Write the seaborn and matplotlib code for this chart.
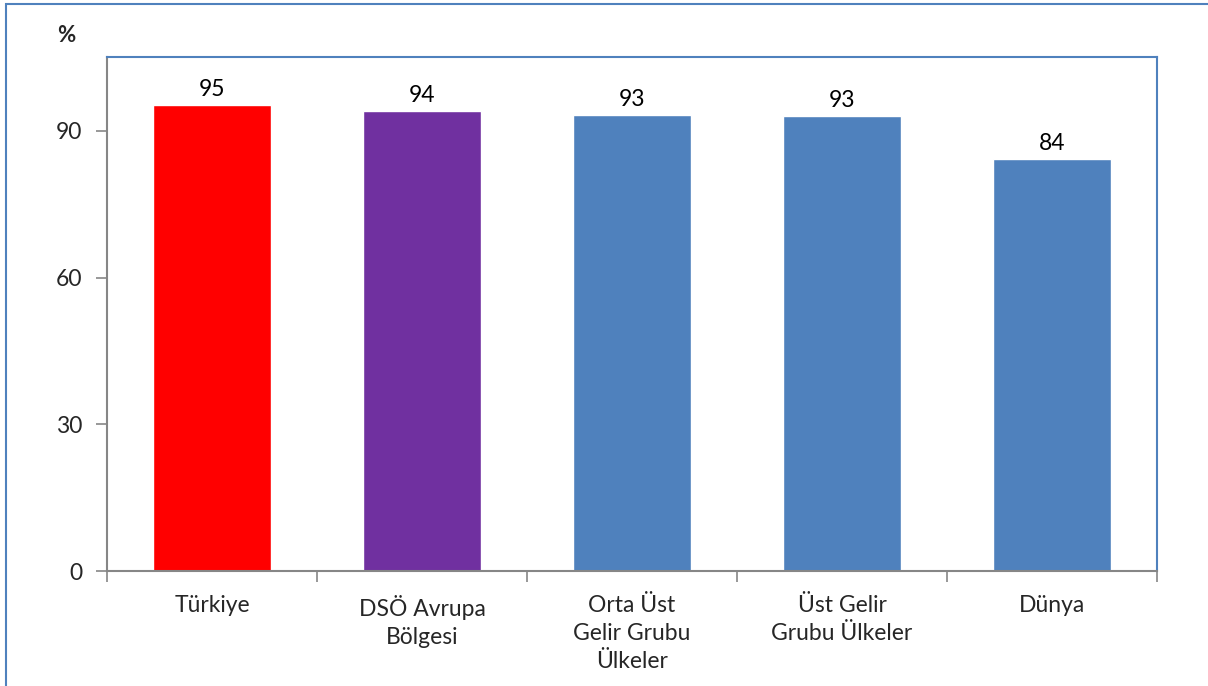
import matplotlib
matplotlib.use("Agg")
import matplotlib.pyplot as plt
import seaborn as sns
import pandas as pd
from matplotlib.patches import Rectangle

# Veriler
kategoriler = ["Türkiye", "DSÖ Avrupa\nBölgesi", "Orta Üst\nGelir Grubu\nÜlkeler",
               "Üst Gelir\nGrubu Ülkeler", "Dünya"]
degerler = [95.3, 94.1, 93.3, 93.1, 84.3]
etiketler = ["95", "94", "93", "93", "84"]
renkler = ["#FF0000", "#7030A0", "#4F81BD", "#4F81BD", "#4F81BD"]
y_ticks = [0, 30, 60, 90]

sns.set_style("white")
plt.rcParams['font.family'] = ['Lato', 'DejaVu Sans']

df = pd.DataFrame({"kategori": kategoriler, "deger": degerler})

fig = plt.figure(figsize=(12.08, 6.86), dpi=100)
ax = fig.add_axes([0.0886, 0.1676, 0.8692, 0.7493])

sns.barplot(data=df, x="kategori", y="deger", hue="kategori", palette=renkler,
            legend=False, width=0.562, saturation=1, ax=ax)

for i, (v, e) in enumerate(zip(degerler, etiketler)):
    ax.text(i, v + 1.0, e, ha="center", va="bottom", fontsize=16.5, color="black")

ax.set_ylim(0, 105.1)
ax.set_xlim(-0.5, len(kategoriler) - 0.5)
ax.set_yticks(y_ticks)
ax.set_yticklabels([str(t) for t in y_ticks], fontsize=16.5)
ax.set_xlabel("")
ax.set_ylabel("")

# x eksenindeki kategori sinirlari icin ticks
ax.set_xticks([i - 0.5 for i in range(len(kategoriler) + 1)], minor=False)
ax.set_xticklabels([])
ax.set_xticks(range(len(kategoriler)), minor=True)
ax.set_xticklabels(kategoriler, minor=True, fontsize=16.5, linespacing=1.42)
ax.tick_params(axis="x", which="minor", bottom=True, length=0, pad=17)
ax.tick_params(axis="x", which="major", bottom=True, length=8, width=1.2, color="#868686", direction="out")
ax.tick_params(axis="y", left=True, length=8, width=1.2, color="#868686", direction="out", pad=10)

for s in ["left", "bottom"]:
    ax.spines[s].set_color("#868686")
    ax.spines[s].set_linewidth(1.5)
for s in ["top", "right"]:
    ax.spines[s].set_color("#4F81BD")
    ax.spines[s].set_linewidth(1.5)

fig.text(66 / 1208, 1 - 35 / 686, "%", ha="center", va="center", fontsize=16, fontweight="bold")

# dis cerceve
fig.patches.append(Rectangle((6 / 1208, -0.01), 1.02, 1 - 4 / 686 + 0.01, transform=fig.transFigure,
                             fill=False, edgecolor="#4F81BD", linewidth=1.5))

fig.savefig("out.png", dpi=100)
